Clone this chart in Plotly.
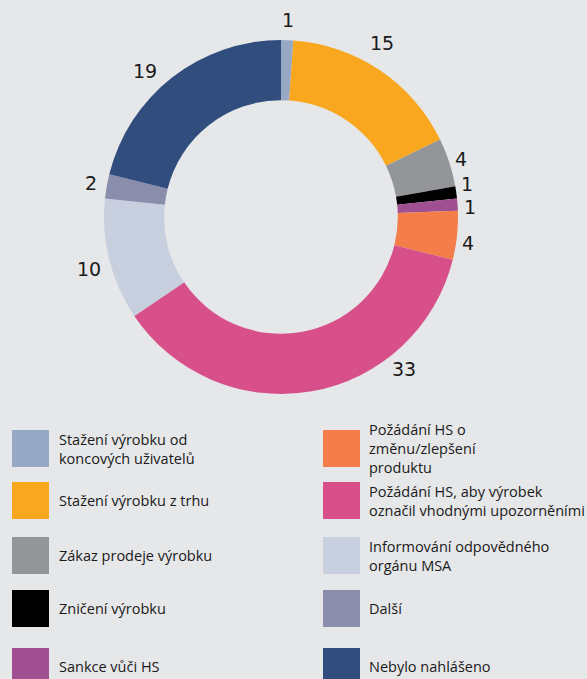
import math
import plotly.graph_objects as go

categories = [
    "Stažení výrobku od<br>koncových uživatelů",
    "Stažení výrobku z trhu",
    "Zákaz prodeje výrobku",
    "Zničení výrobku",
    "Sankce vůči HS",
    "Požádání HS o<br>změnu/zlepšení<br>produktu",
    "Požádání HS, aby výrobek<br>označil vhodnými upozorněními",
    "Informování odpovědného<br>orgánu MSA",
    "Další",
    "Nebylo nahlášeno",
]
values = [1, 15, 4, 1, 1, 4, 33, 10, 2, 19]
colors = ["#97a8c4", "#f9a71e", "#939598", "#000000", "#a14f93",
          "#f47e4a", "#d7508a", "#c8cfde", "#8a8dab", "#314d7e"]

# label placement tweaks (degrees of angular nudge, px distance from centre)
label_nudge = [0, -4, 0, -2, 1, 2, -29, -1, 0, -5]
label_dist = [197, 201, 189, 189, 189, 189, 196, 199, 193, 199]

W, H = 587, 679
BG = "#e6e7e9"
CX, CY, R = 281, 217, 177

fig = go.Figure()
fig.add_trace(go.Pie(
    labels=[c.replace("<br>", " ") for c in categories],
    values=values,
    marker=dict(colors=colors, line=dict(width=0)),
    hole=0.66,
    sort=False,
    direction="clockwise",
    rotation=0,
    textinfo="none",
    showlegend=False,
    domain=dict(x=[(CX - R) / W, (CX + R) / W], y=[1 - (CY + R) / H, 1 - (CY - R) / H]),
))

annotations = []
# value labels around the ring
total = sum(values)
cum = 0
for v, nud, dist in zip(values, label_nudge, label_dist):
    mid = (cum + v / 2) / total * 360 + nud
    cum += v
    th = math.radians(mid)
    px = CX + dist * math.sin(th)
    py = CY - dist * math.cos(th)
    annotations.append(dict(xref="paper", yref="paper", x=px / W, y=1 - py / H,
                            xanchor="center", yanchor="middle", showarrow=False,
                            text=str(v),
                            font=dict(size=19, color="#1a1a1a", family="DejaVu Sans")))

# custom two-column legend
shapes = []
row_tops = [430, 482, 537, 590, 648]
sw = 37
cols = [(12, 58), (323, 368)]
for i, (lab, col) in enumerate(zip(categories, colors)):
    c = i // 5
    r = i % 5
    sx, tx = cols[c]
    top = row_tops[r]
    shapes.append(dict(type="rect", xref="paper", yref="paper",
                       x0=sx / W, x1=(sx + sw) / W,
                       y0=1 - (top + sw) / H, y1=1 - top / H,
                       fillcolor=col, line=dict(width=0), layer="above"))
    annotations.append(dict(xref="paper", yref="paper",
                            x=tx / W, y=1 - (top + sw / 2) / H,
                            xanchor="left", yanchor="middle", align="left",
                            text=lab, showarrow=False, borderpad=0,
                            font=dict(size=14.5, color="#1a1a1a", family="Open Sans")))

fig.update_layout(
    width=W, height=H,
    margin=dict(l=0, r=0, t=0, b=0),
    paper_bgcolor=BG, plot_bgcolor=BG,
    shapes=shapes, annotations=annotations,
)

fig.write_html("out.html",
               config={"displayModeBar": False},
               post_script="document.body.style.margin='0';document.body.style.background='#e6e7e9';")
